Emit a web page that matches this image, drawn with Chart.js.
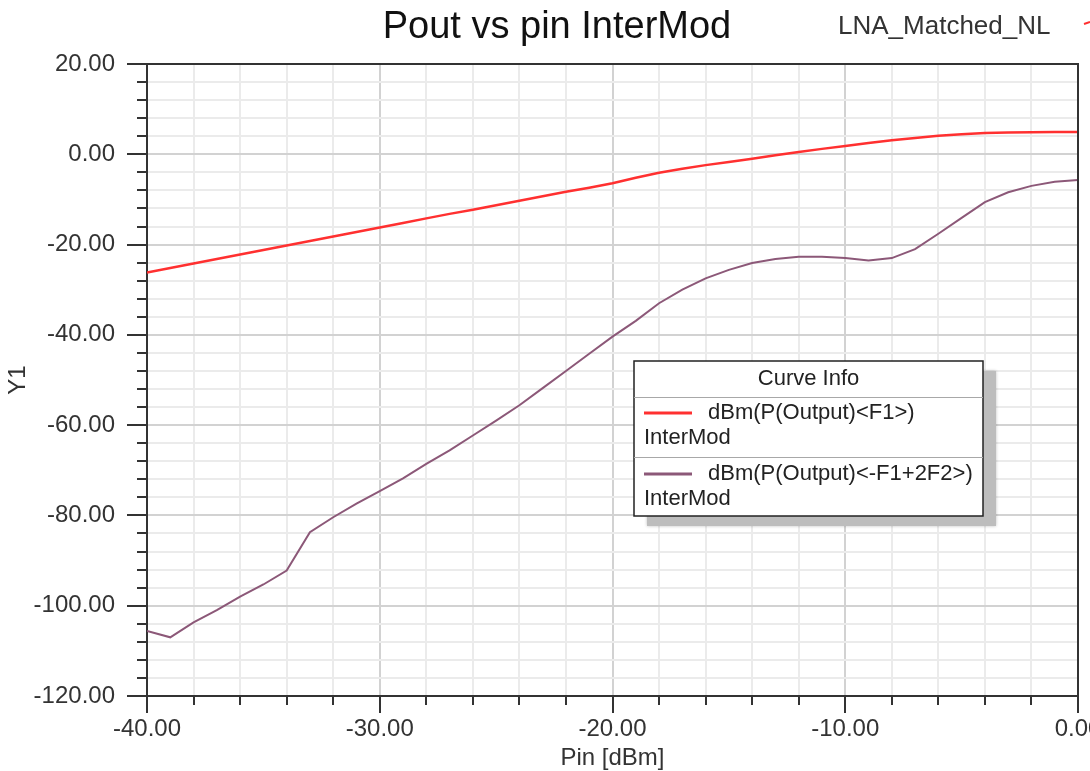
<!DOCTYPE html>
<html>
<head>
<meta charset="utf-8">
<title>Pout vs pin InterMod</title>
<script src="https://cdn.jsdelivr.net/npm/chart.js@4"></script>
<style>
  body { margin: 0; background: #fff; }
  #wrap { width: 1090px; height: 771px; }
</style>
</head>
<body>
<div id="wrap"><canvas id="chart" width="1090" height="771"></canvas></div>
<script>
// input power sweep, dBm
const pinDbm = [-40, -39, -38, -37, -36, -35, -34, -33, -32, -31, -30,
                -29, -28, -27, -26, -25, -24, -23, -22, -21, -20,
                -19, -18, -17, -16, -15, -14, -13, -12, -11, -10,
                -9, -8, -7, -6, -5, -4, -3, -2, -1, 0];

// dBm(P(Output)<F1>)
const poutF1 = [-26.2, -25.2, -24.2, -23.2, -22.2, -21.2, -20.2, -19.2, -18.2, -17.2, -16.2,
                -15.2, -14.2, -13.2, -12.3, -11.3, -10.3, -9.3, -8.3, -7.4, -6.4,
                -5.2, -4.1, -3.2, -2.4, -1.7, -1.0, -0.2, 0.5, 1.2, 1.85,
                2.5, 3.1, 3.6, 4.1, 4.45, 4.7, 4.85, 4.9, 4.95, 4.96];

// dBm(P(Output)<-F1+2F2>)
const poutIM3 = [-105.6, -107.0, -103.7, -101.0, -98.0, -95.3, -92.2, -83.7, -80.4, -77.4, -74.6,
                 -71.8, -68.6, -65.6, -62.3, -59.0, -55.6, -51.8, -48.0, -44.2, -40.4,
                 -36.9, -33.0, -30.0, -27.5, -25.6, -24.1, -23.2, -22.7, -22.7, -23.0,
                 -23.5, -23.0, -21.0, -17.6, -14.1, -10.6, -8.4, -7.0, -6.1, -5.7];

const xMin = -40, xMax = 0, xStep = 2, xMajor = 10;
const yMin = -120, yMax = 20, yStep = 4, yMajor = 20;

const seriesNames = ['dBm(P(Output)<F1>)', 'dBm(P(Output)<-F1+2F2>)'];
const seriesSub = 'InterMod';
const seriesColors = ['#ff3030', '#8c5878'];

const FONT = "'Liberation Sans', Arial, sans-serif";
Chart.defaults.font.family = FONT;
Chart.defaults.color = '#333';

function toPoints(ys) {
    return pinDbm.map((x, i) => ({ x: x, y: ys[i] }));
}

function isMajor(v, step) {
    return Math.abs(v % step) < 1e-6;
}

// header text: title + project name
const headerText = {
    id: 'headerText',
    afterDraw(chart) {
        const ctx = chart.ctx;
        ctx.save();
        ctx.fillStyle = '#111';
        ctx.font = '38px ' + FONT;
        ctx.textAlign = 'center';
        ctx.textBaseline = 'alphabetic';
        ctx.fillText('Pout vs pin InterMod', 557, 38);
        ctx.fillStyle = '#333';
        ctx.font = '26px ' + FONT;
        ctx.textAlign = 'left';
        ctx.fillText('LNA_Matched_NL', 838, 34);
        ctx.strokeStyle = seriesColors[0];
        ctx.lineWidth = 2;
        ctx.beginPath();
        ctx.moveTo(1084, 24);
        ctx.lineTo(1090, 22);
        ctx.stroke();
        ctx.restore();
    }
};

// outward tick marks + top/right frame
const axisTicks = {
    id: 'axisTicks',
    afterDraw(chart) {
        const ctx = chart.ctx;
        const area = chart.chartArea;
        const xs = chart.scales.x, ys = chart.scales.y;
        ctx.save();
        ctx.strokeStyle = '#333';
        ctx.lineWidth = 2;
        ctx.beginPath();
        xs.ticks.forEach(t => {
            const px = Math.round(xs.getPixelForValue(t.value));
            const len = isMajor(t.value, xMajor) ? 17 : 9;
            ctx.moveTo(px, area.bottom);
            ctx.lineTo(px, area.bottom + len);
        });
        ys.ticks.forEach(t => {
            const py = Math.round(ys.getPixelForValue(t.value));
            const len = isMajor(t.value, yMajor) ? 20 : 10;
            ctx.moveTo(area.left, py);
            ctx.lineTo(area.left - len, py);
        });
        // frame top and right
        ctx.moveTo(area.left, area.top);
        ctx.lineTo(area.right, area.top);
        ctx.lineTo(area.right, area.bottom);
        ctx.stroke();
        ctx.restore();
    }
};

// "Curve Info" box
const curveInfo = {
    id: 'curveInfo',
    afterDatasetsDraw(chart) {
        const ctx = chart.ctx;
        const bx = 634, by = 361, bw = 349, bh = 155;
        ctx.save();
        ctx.fillStyle = '#bdbdbd';
        ctx.shadowColor = 'rgba(0,0,0,0.25)';
        ctx.shadowBlur = 3;
        ctx.fillRect(bx + 13, by + 10, bw, bh);
        ctx.shadowBlur = 0;
        ctx.shadowColor = 'transparent';
        ctx.fillStyle = '#fff';
        ctx.fillRect(bx, by, bw, bh);
        ctx.strokeStyle = '#222';
        ctx.lineWidth = 1.5;
        ctx.strokeRect(bx, by, bw, bh);

        ctx.strokeStyle = '#a8a8a8';
        ctx.lineWidth = 1;
        ctx.beginPath();
        ctx.moveTo(bx, 397.5); ctx.lineTo(bx + bw, 397.5);
        ctx.moveTo(bx, 457.5); ctx.lineTo(bx + bw, 457.5);
        ctx.stroke();

        ctx.fillStyle = '#222';
        ctx.font = '22px ' + FONT;
        ctx.textAlign = 'center';
        ctx.textBaseline = 'middle';
        ctx.fillText('Curve Info', bx + bw / 2, 379);

        const rows = [413, 474];
        ctx.textAlign = 'left';
        chart.data.datasets.forEach((ds, i) => {
            const ry = rows[i];
            ctx.strokeStyle = ds.borderColor;
            ctx.lineWidth = 3;
            ctx.beginPath();
            ctx.moveTo(bx + 10, ry);
            ctx.lineTo(bx + 58, ry);
            ctx.stroke();
            ctx.fillStyle = '#222';
            ctx.fillText(ds.label, bx + 74, ry);
            ctx.fillText(seriesSub, bx + 10, ry + 25);
        });
        ctx.restore();
    }
};

new Chart(document.getElementById('chart'), {
    type: 'line',
    data: {
        datasets: [
            {
                label: seriesNames[0],
                data: toPoints(poutF1),
                borderColor: seriesColors[0],
                borderWidth: 2.5,
                pointRadius: 0,
                tension: 0,
                fill: false
            },
            {
                label: seriesNames[1],
                data: toPoints(poutIM3),
                borderColor: seriesColors[1],
                borderWidth: 2,
                pointRadius: 0,
                tension: 0,
                fill: false
            }
        ]
    },
    options: {
        responsive: false,
        devicePixelRatio: 1,
        animation: false,
        layout: { padding: { left: 0, top: 64, right: 12, bottom: 0 } },
        plugins: {
            legend: { display: false },
            tooltip: { enabled: false },
            title: { display: false }
        },
        scales: {
            x: {
                type: 'linear',
                min: xMin,
                max: xMax,
                afterFit(scale) {
                    scale.height = 75;
                    scale.paddingLeft = 0;
                    scale.paddingRight = 0;
                },
                grid: {
                    drawTicks: false,
                    lineWidth: 2,
                    color: ctx => (ctx.tick && isMajor(ctx.tick.value, xMajor)) ? '#d2d2d2' : '#ebebeb'
                },
                border: { display: true, color: '#333', width: 2 },
                ticks: {
                    stepSize: xStep,
                    autoSkip: false,
                    maxRotation: 0,
                    padding: 19,
                    color: '#333',
                    font: { size: 24 },
                    callback: v => isMajor(v, xMajor) ? v.toFixed(2) : ''
                },
                title: {
                    display: true,
                    text: 'Pin [dBm]',
                    color: '#333',
                    font: { size: 24 },
                    padding: { top: 0, bottom: -2 }
                }
            },
            y: {
                type: 'linear',
                min: yMin,
                max: yMax,
                afterFit(scale) {
                    scale.width = 147;
                    scale.paddingTop = 0;
                    scale.paddingBottom = 0;
                },
                grid: {
                    drawTicks: false,
                    lineWidth: 2,
                    color: ctx => (ctx.tick && isMajor(ctx.tick.value, yMajor)) ? '#d2d2d2' : '#ebebeb'
                },
                border: { display: true, color: '#333', width: 2 },
                ticks: {
                    stepSize: yStep,
                    autoSkip: false,
                    padding: 32,
                    color: '#333',
                    font: { size: 24 },
                    callback: v => isMajor(v, yMajor) ? v.toFixed(2) : ''
                },
                title: {
                    display: true,
                    text: 'Y1',
                    color: '#333',
                    font: { size: 24 },
                    padding: { top: 4, bottom: 0 }
                }
            }
        }
    },
    plugins: [headerText, axisTicks, curveInfo]
});
</script>
</body>
</html>
